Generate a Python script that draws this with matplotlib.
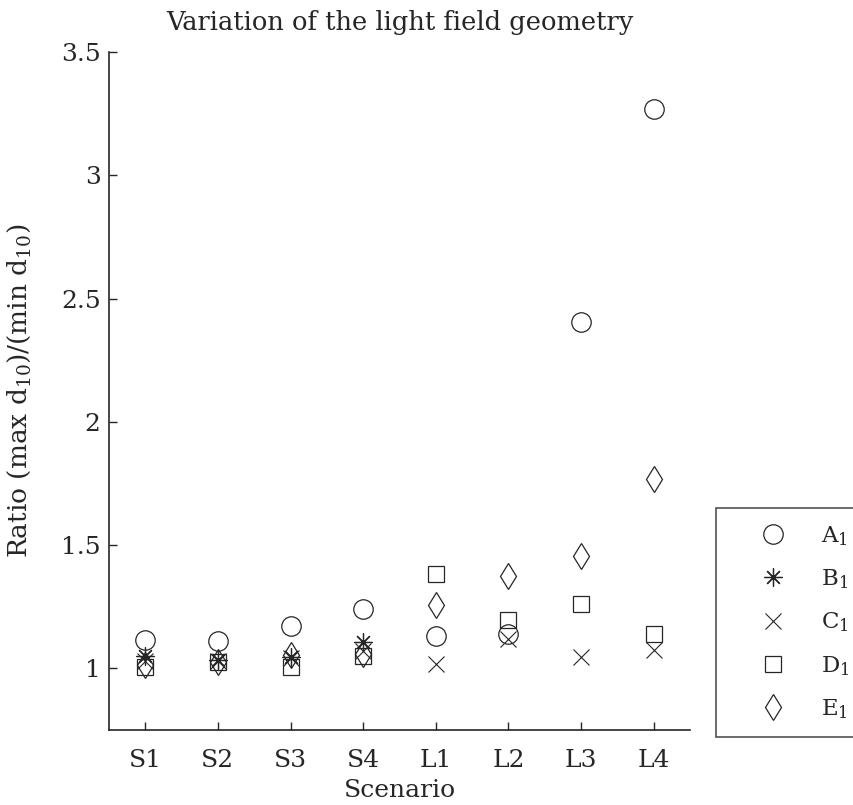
import numpy as np
import matplotlib.pyplot as plt

# Max/min ratio of d10 per scenario, one series per light field geometry
scenarios = ["S1", "S2", "S3", "S4", "L1", "L2", "L3", "L4"]
ratio_a = [1.115, 1.11, 1.173, 1.24, 1.133, 1.141, 2.403, 3.27]
ratio_b = [1.05, 1.035, 1.045, 1.105, np.nan, np.nan, np.nan, np.nan]
ratio_c = [1.03, 1.03, 1.04, 1.07, 1.016, 1.117, 1.044, 1.073]
ratio_d = [1.005, 1.025, 1.004, 1.05, 1.383, 1.198, 1.262, 1.141]
ratio_e = [1.012, 1.025, 1.055, 1.058, 1.258, 1.375, 1.455, 1.766]

plt.rcParams['font.family'] = 'DejaVu Serif'
plt.rcParams['mathtext.fontset'] = 'dejavuserif'

ink = '#262626'
fs = 18
fig = plt.figure(figsize=(8.54, 8.05), dpi=100)
ax = fig.add_axes([0.1276, 0.0932, 0.6804, 0.8422])

x = np.arange(1, len(scenarios) + 1)
ax.plot(x, ratio_a, 'o', ms=14, mfc='none', mec=ink, mew=0.9, label='A$_1$')
ax.plot(x, ratio_b, marker=(8, 2, 0), ls='none', ms=13, mec=ink, mew=0.9, label='B$_1$')
ax.plot(x, ratio_c, 'x', ms=11, mec=ink, mew=0.8, label='C$_1$')
ax.plot(x, ratio_d, 's', ms=12, mfc='none', mec=ink, mew=0.9, label='D$_1$')
ax.plot(x, ratio_e, 'd', ms=13.5, mfc='none', mec=ink, mew=0.9, label='E$_1$')

ax.set_xlim(0.5, 8.5)
ax.set_ylim(0.75, 3.5)
ax.set_xticks(x)
ax.set_xticklabels(scenarios)
ax.set_yticks([1, 1.5, 2, 2.5, 3, 3.5])
ax.set_yticklabels(['1', '1.5', '2', '2.5', '3', '3.5'])
ax.tick_params(direction='in', length=6, width=1, colors=ink, labelsize=fs)
ax.tick_params(axis='y', pad=6)
ax.tick_params(axis='x', pad=14)
for side in ['top', 'right']:
    ax.spines[side].set_visible(False)
for side in ['left', 'bottom']:
    ax.spines[side].set_color(ink)
    ax.spines[side].set_linewidth(1.2)

ax.set_title('Variation of the light field geometry', fontsize=18.5, color=ink, pad=16)
ax.set_xlabel('Scenario', fontsize=fs, color=ink, labelpad=5)
ax.set_ylabel('Ratio (max d$_{10}$)/(min d$_{10}$)', fontsize=19, color=ink)
ax.yaxis.set_label_coords(-0.13, 0.5)

leg = fig.legend(loc='upper left', bbox_to_anchor=(0.838, 0.369), fontsize=16.5,
                 frameon=True, fancybox=False, edgecolor=ink, labelspacing=0.86,
                 handletextpad=0.3, borderpad=0.7, handlelength=3.6, borderaxespad=0)
leg.get_frame().set_linewidth(1.2)
for t in leg.get_texts():
    t.set_color(ink)

fig.savefig('out.png', dpi=100)
